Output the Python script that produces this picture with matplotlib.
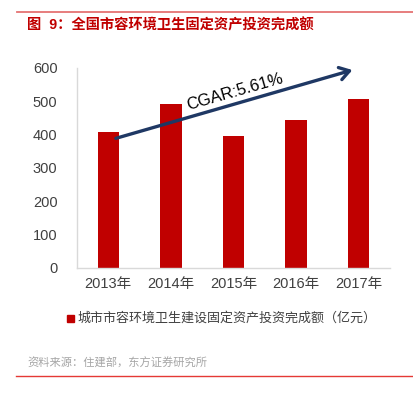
import matplotlib
matplotlib.use("Agg")
import matplotlib.pyplot as plt
from matplotlib.lines import Line2D
from matplotlib.patches import Rectangle

plt.rcParams['font.family'] = ['Liberation Sans', 'Noto Sans CJK SC', 'DejaVu Sans']

# Data
years = ["2013年", "2014年", "2015年", "2016年", "2017年"]
invest = [406, 492, 395, 442, 505]
yticks = [0, 100, 200, 300, 400, 500, 600]
arrow_start = (0.12, 388)
arrow_end = (3.9, 593)

title = "图  9：全国市容环境卫生固定资产投资完成额"
legend_label = "城市市容环境卫生建设固定资产投资完成额（亿元）"
source = "资料来源：住建部，东方证券研究所"

red = "#C00000"
navy = "#1F3864"
gray = "#404040"

fig = plt.figure(figsize=(4.14, 3.94), dpi=100)
ax = fig.add_axes([0.186, 0.3206, 0.756, 0.5076])

x = range(len(years))
ax.bar(x, invest, width=0.34, color=red, zorder=2)
ax.set_xlim(-0.5, 4.5)
ax.set_ylim(0, 600)
ax.set_yticks(yticks)
ax.set_xticks(list(x))
ax.set_xticklabels(years)
ax.tick_params(length=0, labelsize=10.5, colors=gray)
ax.tick_params(axis='y', pad=14)
ax.tick_params(axis='x', pad=7)
for s in ["top", "right"]:
    ax.spines[s].set_visible(False)
for s in ["left", "bottom"]:
    ax.spines[s].set_color("#D9D9D9")
    ax.spines[s].set_linewidth(1.0)

# CAGR arrow
ax.annotate("", xy=arrow_end, xytext=arrow_start,
            arrowprops=dict(arrowstyle="->,head_length=0.7,head_width=0.45",
                            color=navy, lw=2.4, shrinkA=0, shrinkB=0),
            zorder=3)
ax.text(1.22, 528, "CGAR:5.61%", fontsize=12, color="black", rotation=16,
        ha="left", va="center", zorder=4)

# header / footer
fig.add_artist(Line2D([17/414, 1.0], [1-12/394, 1-12/394], color="#E57373", lw=1.3))
fig.text(27/414, 1-25/394, title, fontsize=10.3, color=red, fontweight="bold",
         ha="left", va="center")

fig.add_artist(Rectangle((67/414, 1-322/394), 7/414, 7/394, color=red,
                         transform=fig.transFigure))
fig.text(77/414, 1-318/394, legend_label, fontsize=9.4, color=gray,
         ha="left", va="center")

fig.text(27/414, 1-363/394, source, fontsize=8.1, color="#A6A6A6",
         ha="left", va="center")
fig.add_artist(Line2D([16/414, 1.0], [1-376/394, 1-376/394], color="#E53935", lw=1.0))

fig.savefig("out.png", dpi=100)
